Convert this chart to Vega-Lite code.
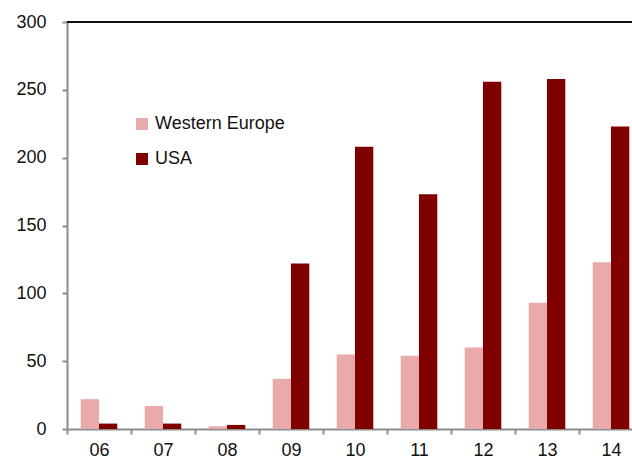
{
  "$schema": "https://vega.github.io/schema/vega-lite/v6.json",
  "autosize": "none",
  "width": 565,
  "height": 407,
  "padding": {"left": 67, "top": 22, "right": 0, "bottom": 31},
  "background": "white",
  "config": {
    "view": {"stroke": null},
    "font": "Liberation Sans",
    "axis": {"labelFont": "Liberation Sans", "labelFontSize": 18, "labelColor": "#111", "grid": false, "domainColor": "#8c8c8c", "domainWidth": 2, "tickColor": "#8c8c8c", "tickWidth": 2, "tickSize": 5, "title": null}
  },
  "data": {
    "values": [
      {"year": "06", "region": "Western Europe", "value": 22},
      {"year": "06", "region": "USA", "value": 4},
      {"year": "07", "region": "Western Europe", "value": 17},
      {"year": "07", "region": "USA", "value": 4},
      {"year": "08", "region": "Western Europe", "value": 2},
      {"year": "08", "region": "USA", "value": 3},
      {"year": "09", "region": "Western Europe", "value": 37},
      {"year": "09", "region": "USA", "value": 122},
      {"year": "10", "region": "Western Europe", "value": 55},
      {"year": "10", "region": "USA", "value": 208},
      {"year": "11", "region": "Western Europe", "value": 54},
      {"year": "11", "region": "USA", "value": 173},
      {"year": "12", "region": "Western Europe", "value": 60},
      {"year": "12", "region": "USA", "value": 256},
      {"year": "13", "region": "Western Europe", "value": 93},
      {"year": "13", "region": "USA", "value": 258},
      {"year": "14", "region": "Western Europe", "value": 123},
      {"year": "14", "region": "USA", "value": 223}
    ]
  },
  "layer": [
    {
      "mark": {"type": "bar"},
      "encoding": {
        "x": {
          "field": "year", "type": "nominal",
          "scale": {"range": [0, 576], "paddingInner": 0, "paddingOuter": 0},
          "axis": {"labelAngle": 0, "tickBand": "extent", "labelPadding": 7}
        },
        "xOffset": {
          "field": "region", "type": "nominal",
          "sort": ["Western Europe", "USA"],
          "scale": {"paddingInner": 0, "paddingOuter": 0.75}
        },
        "y": {
          "field": "value", "type": "quantitative",
          "scale": {"domain": [0, 300], "nice": false},
          "axis": {"values": [0, 50, 100, 150, 200, 250, 300], "labelPadding": 16}
        },
        "color": {
          "field": "region", "type": "nominal",
          "sort": ["Western Europe", "USA"],
          "scale": {"domain": ["Western Europe", "USA"], "range": ["#E8AAAA", "#800000"]},
          "legend": {
            "title": null, "orient": "none", "legendX": 66, "legendY": 93,
            "symbolType": "square", "symbolSize": 144, "symbolStrokeWidth": 0,
            "labelFont": "Liberation Sans", "labelFontSize": 18, "labelColor": "#111",
            "rowPadding": 17, "labelOffset": 4
          }
        }
      }
    },
    {
      "mark": {"type": "rule", "color": "#111", "strokeWidth": 2},
      "encoding": {"y": {"datum": 300}}
    }
  ]
}
